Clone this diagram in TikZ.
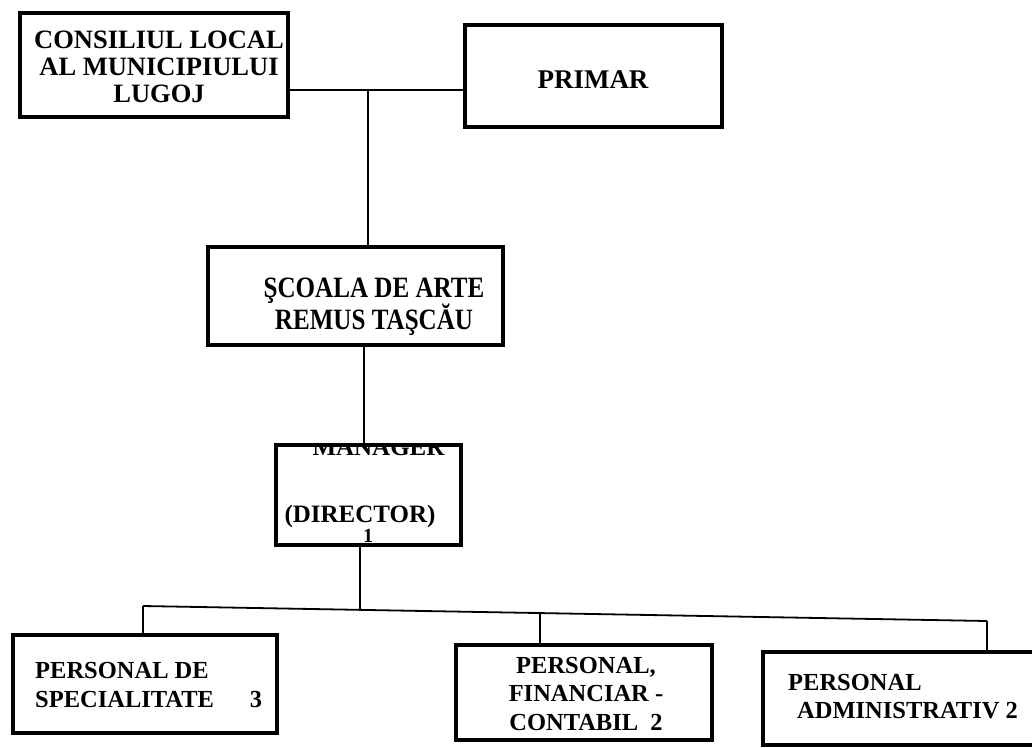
\documentclass[tikz,border=0pt]{standalone}
\usepackage{fontspec}
\setmainfont{Liberation Serif}
\newfontfamily\narrowfont{Liberation Serif}[FakeStretch=0.85]
\begin{document}
\begin{tikzpicture}[x=1pt,y=-1pt,
  box/.style={draw=black,line width=3.5pt,inner sep=0pt},
  conn/.style={draw=black,line width=1.8pt},
  lbl/.style={inner sep=0pt,text=black,font=\bfseries}]
\useasboundingbox[fill=white] (0,0) rectangle (1032,747);
% boxes
\node[box,minimum width=268pt,minimum height=104pt] (cons) at (154,65) {};
\node[box,minimum width=257pt,minimum height=102pt] (primar) at (593.5,76) {};
\node[box,minimum width=295pt,minimum height=98pt] (scoala) at (355.5,296) {};
\node[box,minimum width=185pt,minimum height=100pt] (manager) at (368.5,495) {};
\node[box,minimum width=264pt,minimum height=98pt] (spec) at (145,684) {};
\node[box,minimum width=256pt,minimum height=95pt] (fin) at (584,692.5) {};
\node[box,minimum width=277pt,minimum height=93pt] (adm) at (901.5,698.5) {};
% texts
\node[lbl,anchor=north,align=center,font=\bfseries\fontsize{26.5}{27}\selectfont] (tcons) at (159,30.5)
  {CONSILIUL LOCAL\\AL MUNICIPIULUI\\LUGOJ};
\node[lbl,anchor=north,font=\bfseries\fontsize{27}{27}\selectfont] (tprimar) at (593,70) {PRIMAR};
\node[lbl,anchor=north,align=center,font=\narrowfont\bfseries\fontsize{29.5}{31}\selectfont] (tscoala) at (374,277.5)
  {ŞCOALA DE ARTE\\REMUS TAŞCĂU};
\begin{scope}
  \clip (0,446.5) rectangle (1032,747);
  \node[lbl,anchor=base,font=\bfseries\fontsize{25}{25}\selectfont] (tmgr) at (378.5,455) {MANAGER};
\end{scope}
\node[lbl,anchor=base,font=\bfseries\fontsize{25}{25}\selectfont] (tdir) at (360,522) {(DIRECTOR)};
\node[lbl,anchor=base,font=\bfseries\fontsize{20}{20}\selectfont] (tone) at (368,542) {1};
\node[lbl,anchor=north west,align=left,font=\bfseries\fontsize{24.5}{29}\selectfont] (tspec) at (35,661.8)
  {PERSONAL DE\\SPECIALITATE};
\node[lbl,anchor=base,font=\bfseries\fontsize{24.5}{29}\selectfont] (tspec3) at (256,707) {3};
\node[lbl,anchor=north,align=center,font=\bfseries\fontsize{24.5}{28.5}\selectfont] (tfin) at (586,656.8)
  {PERSONAL,\\FINANCIAR -\\CONTABIL\ \ 2};
\node[lbl,anchor=north west,align=left,font=\bfseries\fontsize{24.5}{28}\selectfont] (tadm) at (788,673.8)
  {PERSONAL\\\hspace*{9pt}ADMINISTRATIV 2};
% junction coordinates
\coordinate (j1) at (368,90);
\coordinate (j2) at (364,400);
\coordinate (j3) at (360,609);
\coordinate (bL) at (143,606);
\coordinate (d2) at (540,613);
\coordinate (bR) at (987,621);
% connectors
\draw[conn] (cons.east |- j1) -- (primar.west |- j1);
\draw[conn] (j1) -- (scoala.north -| j1);
\draw[conn] (scoala.south -| j2) -- (manager.north -| j2);
\draw[conn] (manager.south -| j3) -- (j3);
\draw[conn] (bL) -- (bR);
\draw[conn] (bL) -- (spec.north -| bL);
\draw[conn] (d2) -- (fin.north -| d2);
\draw[conn] (bR) -- (adm.north -| bR);
\end{tikzpicture}
\end{document}
